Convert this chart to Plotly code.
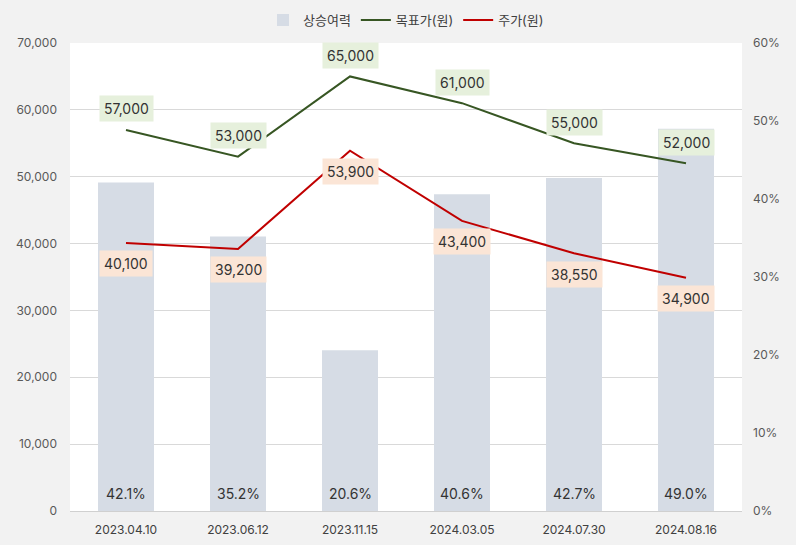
import plotly.graph_objects as go

dates = ["2023.04.10", "2023.06.12", "2023.11.15", "2024.03.05", "2024.07.30", "2024.08.16"]
upside = [42.1, 35.2, 20.6, 40.6, 42.7, 49.0]
target = [57000, 53000, 65000, 61000, 55000, 52000]
price = [40100, 39200, 53900, 43400, 38550, 34900]

FONT = "Inter, Noto Sans CJK KR, sans-serif"

fig = go.Figure()
fig.add_trace(go.Bar(
    x=dates, y=upside, name="상승여력", yaxis="y",
    marker=dict(color="#d6dce5", line=dict(width=0)), width=0.5,
    hoverinfo="skip",
))
fig.add_trace(go.Scatter(
    x=dates, y=target, name="목표가(원)", yaxis="y2", mode="lines",
    line=dict(color="#375623", width=2),
))
fig.add_trace(go.Scatter(
    x=dates, y=price, name="주가(원)", yaxis="y2", mode="lines",
    line=dict(color="#c00000", width=2),
))

annotations = []
for d, u in zip(dates, upside):
    annotations.append(dict(x=d, y=0, xref="x", yref="y", text=f"{u:.1f}%", showarrow=False,
                            yshift=18, font=dict(size=14, color="#333333", family=FONT)))
for d, t in zip(dates, target):
    annotations.append(dict(x=d, y=t, xref="x", yref="y2", text=f"{t:,}", showarrow=False,
                            yshift=21, bgcolor="#e6f0dc", borderpad=4,
                            font=dict(size=14, color="#333333", family=FONT)))
for d, p in zip(dates, price):
    annotations.append(dict(x=d, y=p, xref="x", yref="y2", text=f"{p:,}", showarrow=False,
                            yshift=-21, bgcolor="#fbe5d6", borderpad=4,
                            font=dict(size=14, color="#333333", family=FONT)))

fig.update_layout(
    width=796, height=545,
    margin=dict(l=70, r=54, t=43, b=34, autoexpand=False),
    paper_bgcolor="#f2f2f2", plot_bgcolor="#ffffff",
    font=dict(family=FONT, size=12, color="#595959"),
    showlegend=True,
    legend=dict(orientation="h", x=0.5, xanchor="center", y=1.017, yanchor="bottom",
                font=dict(size=13, color="#404040", family=FONT), bgcolor="rgba(0,0,0,0)",
                traceorder="normal"),
    bargap=0.5,
    xaxis=dict(showline=True, linecolor="#d0d0d0", linewidth=1, ticks="", showgrid=False,
               ticklabelstandoff=8, tickfont=dict(size=12, color="#404040")),
    yaxis=dict(side="right", range=[0, 60], dtick=10, ticksuffix="%", showgrid=False,
               zeroline=False, ticklabelstandoff=10, tickfont=dict(size=12, color="#595959")),
    yaxis2=dict(side="left", overlaying="y", range=[0, 70000], dtick=10000, tickformat=",",
                showgrid=True, gridcolor="#d9d9d9", zeroline=False, ticklabelstandoff=12,
                tickfont=dict(size=12, color="#595959")),
    annotations=annotations,
)

fig.write_html("out.html", config={"displayModeBar": False},
               post_script="document.body.style.margin='0';")
